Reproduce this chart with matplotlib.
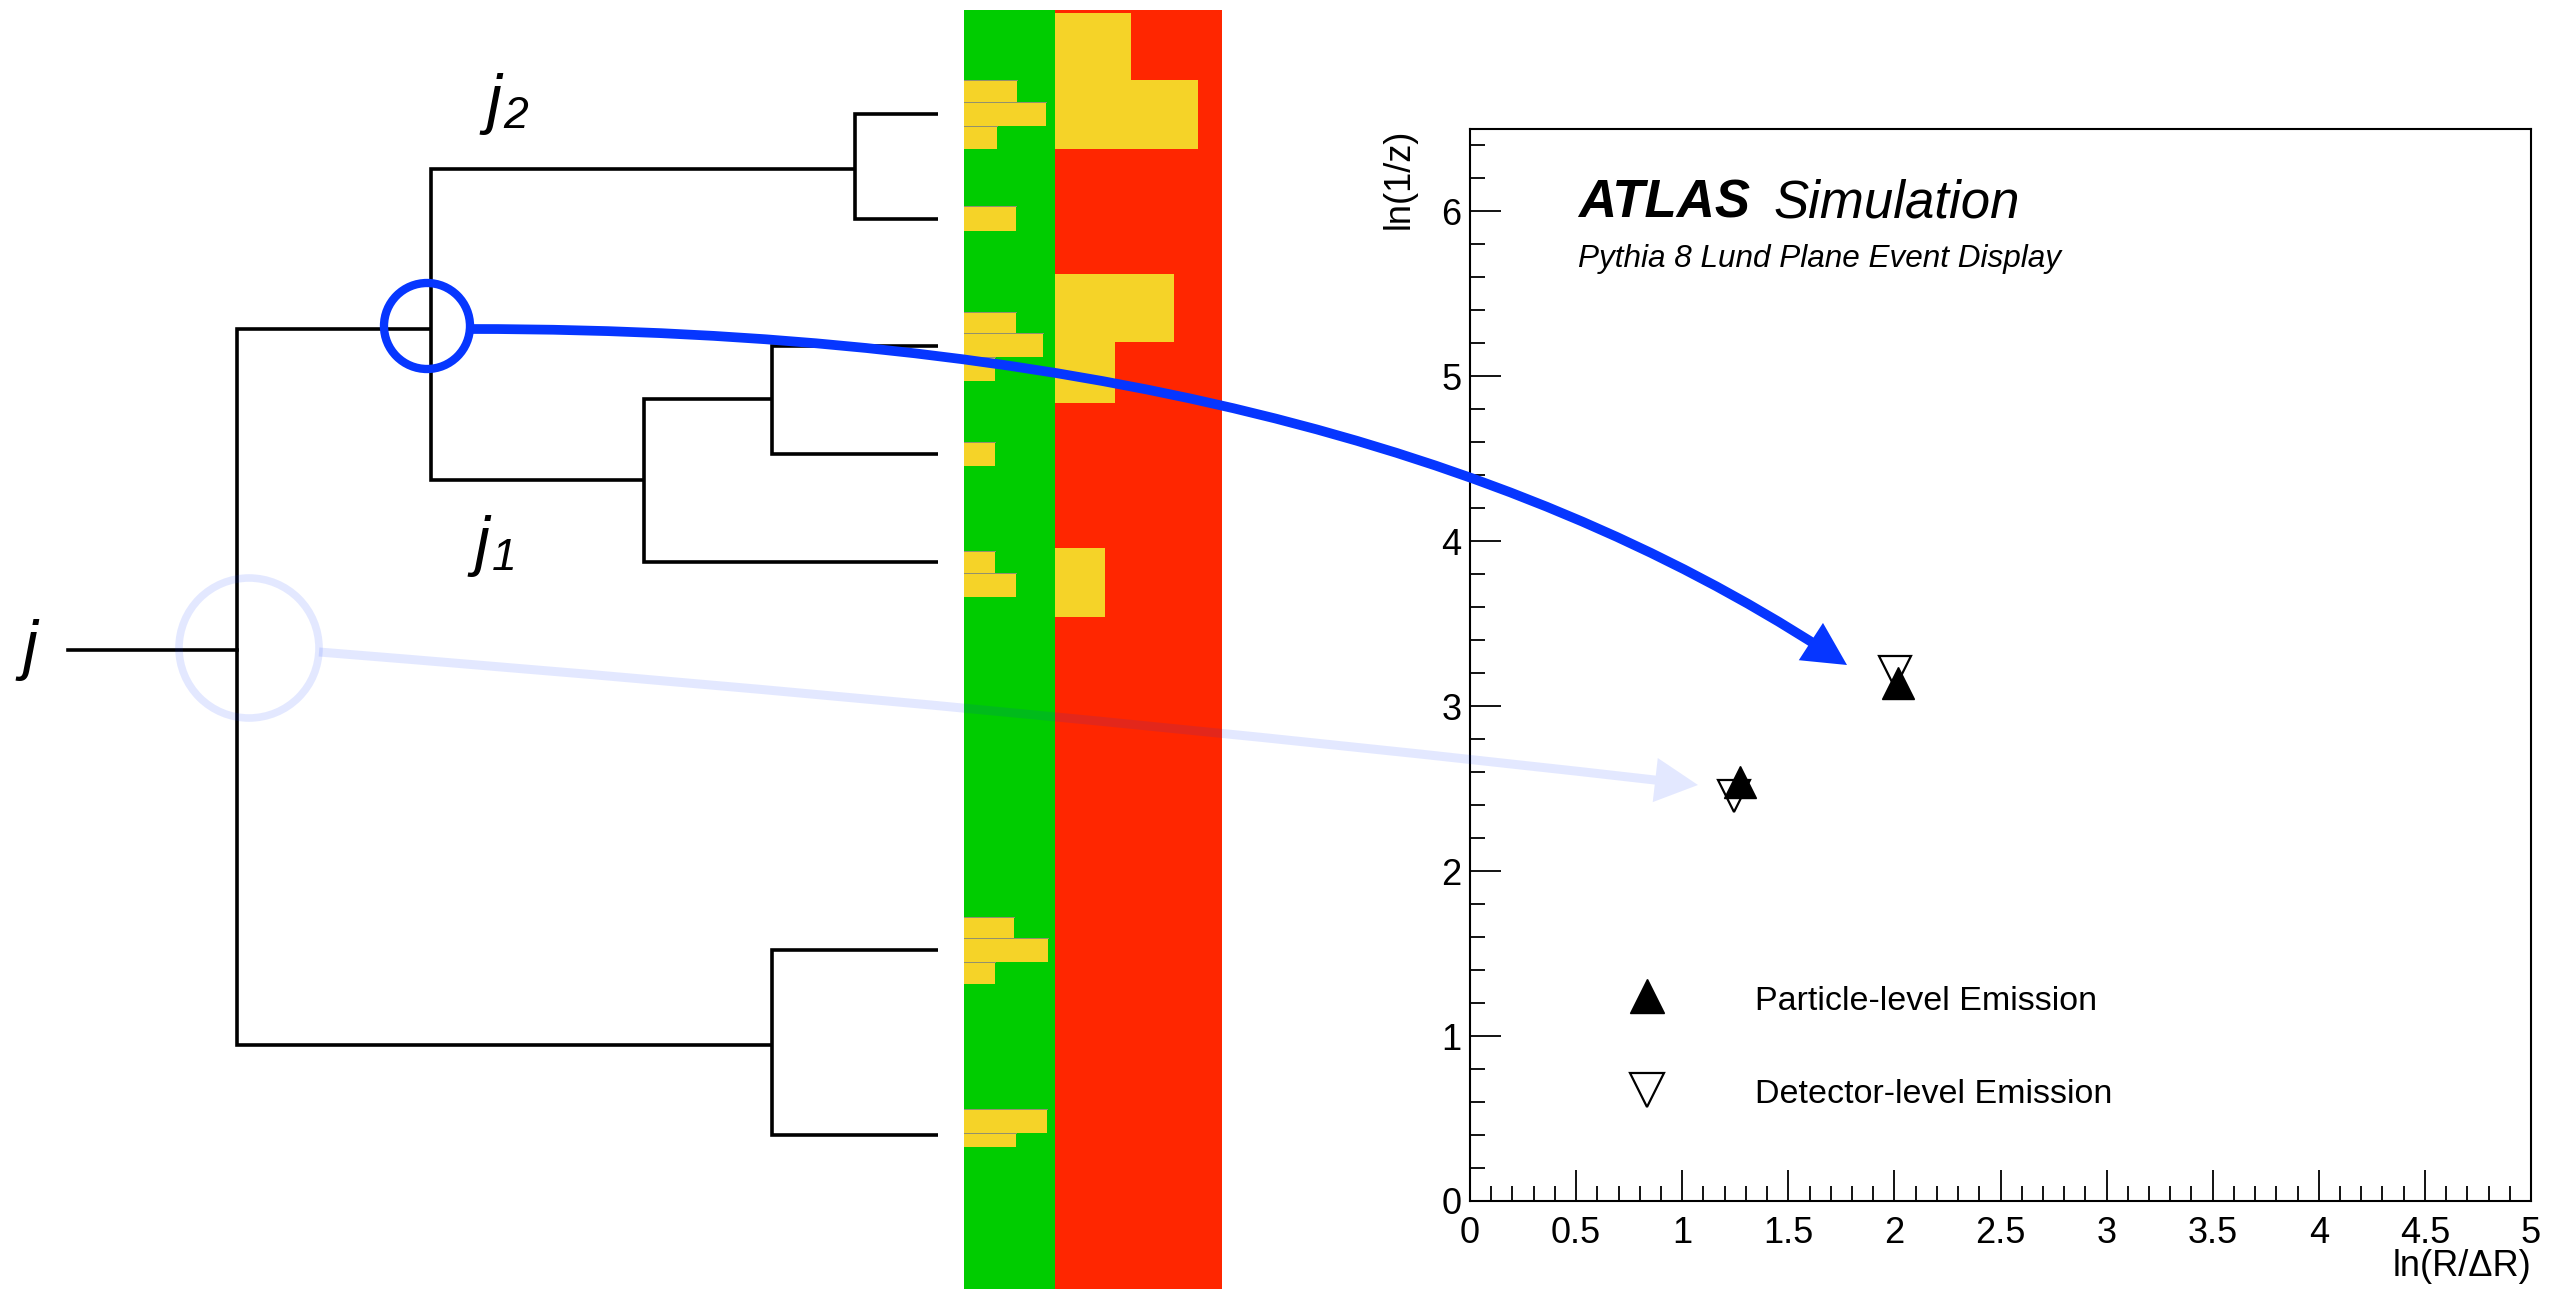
import numpy as np
import matplotlib
matplotlib.use("Agg")
import matplotlib.pyplot as plt
from matplotlib.patches import Rectangle, Circle, FancyArrowPatch, PathPatch
from matplotlib.path import Path
from matplotlib.ticker import MultipleLocator, FuncFormatter

plt.rcParams['font.family'] = ['Liberation Sans', 'DejaVu Sans']

W, H = 2569, 1289

# ---- clustering tree (pixel layout, y grows downwards)
leaf_y = [114, 219, 346, 454, 562, 950, 1135]
leaf_end = 938
# node name -> (split x, split y, children)
tree_nodes = {
    'a': (855, 169, ('L0', 'L1')),
    'b': (772, 399, ('L2', 'L3')),
    'c': (644, 480, ('b', 'L4')),
    'd': (431, 329, ('a', 'c')),
    'e': (772, 1045, ('L5', 'L6')),
    'root': (237, 650, ('d', 'e')),
}
root_stub_x = 68

# ---- jet image column: yellow cells (top, bottom, right edge)
bar_top = 10
green_x = (964, 1055)
red_x = (1055, 1222)
green_cells = [(80, 102, 1017), (102, 126, 1046), (126, 149, 997),
               (206, 231, 1016),
               (312, 333, 1016), (333, 357, 1043), (357, 381, 995),
               (442, 466, 995),
               (551, 573, 995), (573, 597, 1016),
               (917, 938, 1014), (938, 962, 1048), (962, 984, 995),
               (1109, 1133, 1047), (1133, 1147, 1016)]
red_cells = [(13, 80, 1131), (80, 149, 1198), (274, 342, 1174),
             (342, 403, 1115), (548, 617, 1105)]

# ---- Lund plane emissions
particle_x = [2.017, 1.273]
particle_y = [3.14, 2.54]
detector_x = [2.003, 1.245]
detector_y = [3.21, 2.456]

GREEN = '#00cc00'
RED = '#ff2600'
YELLOW = '#f5d328'
BLUE = '#0636ff'

fig = plt.figure(figsize=(W / 100, H / 100), dpi=100)

canvas = fig.add_axes([0, 0, 1, 1])
canvas.set_xlim(0, W)
canvas.set_ylim(H, 0)
canvas.axis('off')


def node_pos(name):
    if name.startswith('L'):
        return leaf_end, leaf_y[int(name[1:])]
    x, y, _ = tree_nodes[name]
    return x, y


for name, (x, y, (c1, c2)) in tree_nodes.items():
    x1, y1 = node_pos(c1)
    x2, y2 = node_pos(c2)
    canvas.plot([x1, x, x, x2], [y1, y1, y2, y2], color='black', lw=2.6,
                solid_joinstyle='miter', solid_capstyle='butt')
rx, ry, _ = tree_nodes['root']
canvas.plot([root_stub_x, rx], [ry, ry], color='black', lw=2.6)

# subjet labels
label_kw = dict(style='italic', color='black', va='baseline')
canvas.text(486, 121, 'j', fontsize=48, **label_kw)
canvas.text(503, 128, '2', fontsize=32, **label_kw)
canvas.text(474, 563, 'j', fontsize=48, **label_kw)
canvas.text(492, 570, '1', fontsize=32, **label_kw)
canvas.text(22, 667, 'j', fontsize=48, **label_kw)

# jet image column
canvas.add_patch(Rectangle((green_x[0], bar_top), green_x[1] - green_x[0], H - bar_top,
                           facecolor=GREEN, edgecolor='none'))
canvas.add_patch(Rectangle((red_x[0], bar_top), red_x[1] - red_x[0], H - bar_top,
                           facecolor=RED, edgecolor='none'))
for y0, y1, x1 in green_cells:
    canvas.add_patch(Rectangle((green_x[0], y0), x1 - green_x[0], y1 - y0,
                               facecolor=YELLOW, edgecolor='none'))
    canvas.plot([green_x[0], x1], [y0, y0], color='#8f8f70', lw=0.7)
for y0, y1, x1 in red_cells:
    canvas.add_patch(Rectangle((red_x[0], y0), x1 - red_x[0], y1 - y0,
                               facecolor=YELLOW, edgecolor='none'))

# ---- Lund plane
ax = fig.add_axes([1470 / W, 1 - 1201 / H, 1061 / W, 1072 / H])
ax.set_xlim(0, 5)
ax.set_ylim(0, 6.5)
ax.xaxis.set_major_locator(MultipleLocator(0.5))
ax.xaxis.set_minor_locator(MultipleLocator(0.1))
ax.yaxis.set_major_locator(MultipleLocator(1))
ax.yaxis.set_minor_locator(MultipleLocator(0.2))
ax.xaxis.set_major_formatter(FuncFormatter(lambda v, p: f'{v:g}'))
ax.yaxis.set_major_formatter(FuncFormatter(lambda v, p: f'{v:g}'))
ax.tick_params(which='both', direction='in', top=False, right=False, width=1.3,
               labelsize=26)
ax.tick_params(which='major', length=22)
ax.tick_params(which='minor', length=11)
ax.tick_params(axis='x', pad=11)
ax.tick_params(axis='y', pad=6)
for s in ax.spines.values():
    s.set_linewidth(1.5)

ax.set_ylabel('ln(1/z)', fontsize=26, loc='top')
ax.yaxis.set_label_coords(-0.05, 1.0)
ax.set_xlabel('ln(R/ΔR)', fontsize=26, loc='right')
ax.xaxis.set_label_coords(1.0, -0.045)

ax.plot(detector_x, detector_y, linestyle='none', marker='v', ms=23,
        mfc='white', mec='black', mew=1.6)
ax.plot(particle_x, particle_y, linestyle='none', marker='^', ms=23,
        mfc='black', mec='black', mew=1)

ax.text(0.102, 0.917, 'ATLAS', transform=ax.transAxes, fontsize=38,
        weight='bold', style='italic', va='baseline')
ax.text(0.2865, 0.917, 'Simulation', transform=ax.transAxes, fontsize=38,
        style='italic', va='baseline')
ax.text(0.102, 0.871, 'Pythia 8 Lund Plane Event Display', transform=ax.transAxes,
        fontsize=22.7, style='italic', va='baseline')

# legend drawn by hand, ROOT style
ax.plot([0.834], [1.243], marker='^', ms=24, mfc='black', mec='black', ls='none')
ax.plot([0.834], [0.673], marker='v', ms=24, mfc='white', mec='black', mew=1.6, ls='none')
ax.text(1.343, 1.158, 'Particle-level Emission', fontsize=24.5, va='baseline')
ax.text(1.343, 0.594, 'Detector-level Emission', fontsize=24.5, va='baseline')

# ---- arrows linking tree nodes to emissions
over = fig.add_axes([0, 0, 1, 1], zorder=10)
over.set_xlim(0, W)
over.set_ylim(H, 0)
over.axis('off')
over.patch.set_alpha(0)

over.add_patch(Circle((249, 648), 70, fill=False, edgecolor=BLUE, alpha=0.11, lw=5.5))
soft_path = Path([(319, 652), (1069, 712), (1698, 785)],
                 [Path.MOVETO, Path.CURVE3, Path.CURVE3])
over.add_patch(FancyArrowPatch(path=soft_path,
                               arrowstyle='simple,head_length=31,head_width=32,tail_width=6.5',
                               mutation_scale=1, facecolor=BLUE, edgecolor='none',
                               lw=0, alpha=0.11))

over.add_patch(Circle((427, 326), 43, fill=False, edgecolor=BLUE, lw=6))

# main arrow: cubic shaft plus a filled head along the end tangent
p0, p1, p2, tip = (np.array(p, float) for p in
                   [(470, 329), (1070, 329), (1511, 447), (1847, 665)])
d = (tip - p2) / np.hypot(*(tip - p2))
shaft = Path([p0, p1, p2, tip - 28 * d],
             [Path.MOVETO, Path.CURVE4, Path.CURVE4, Path.CURVE4])
over.add_patch(PathPatch(shaft, fill=False, edgecolor=BLUE, lw=7, capstyle='butt'))
head = Path([tip - 70 * d, tip - 35 * d, tip], [Path.MOVETO, Path.CURVE3, Path.CURVE3])
over.add_patch(FancyArrowPatch(path=head,
                               arrowstyle='simple,head_length=31,head_width=32,tail_width=1',
                               mutation_scale=1, facecolor=BLUE, edgecolor='none', lw=0))

fig.savefig('out.png', dpi=100)
